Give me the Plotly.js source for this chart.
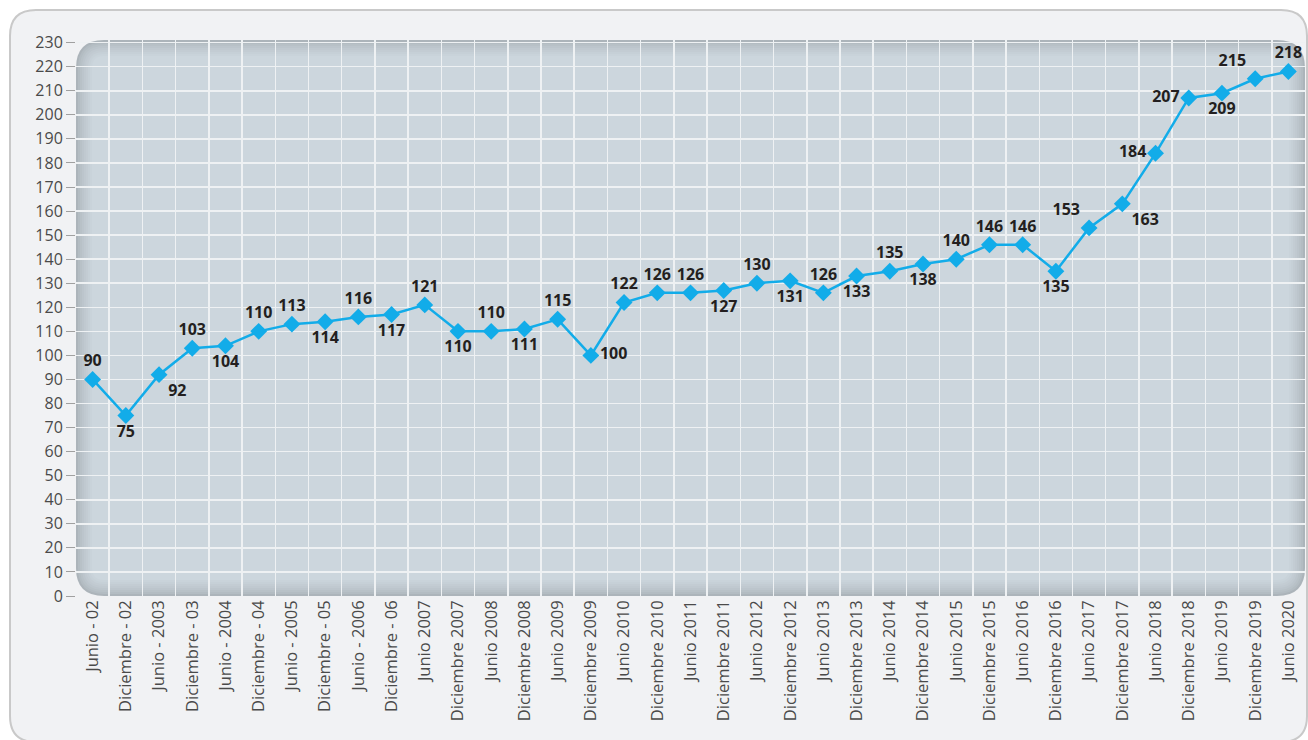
<!DOCTYPE html>
<html>
<head>
<meta charset="utf-8">
<script src="https://cdn.plot.ly/plotly-3.0.1.min.js"></script>
<style>
html,body{margin:0;padding:0;background:#ffffff;}
#chart{width:1308px;height:740px;}
</style>
</head>
<body>
<div id="chart"></div>
<script>
const categories = [
  "Junio - 02","Diciembre - 02","Junio - 2003","Diciembre - 03","Junio - 2004","Diciembre - 04",
  "Junio - 2005","Diciembre - 05","Junio - 2006","Diciembre - 06","Junio 2007","Diciembre 2007",
  "Junio 2008","Diciembre 2008","Junio 2009","Diciembre 2009","Junio 2010","Diciembre 2010",
  "Junio 2011","Diciembre 2011","Junio 2012","Diciembre 2012","Junio 2013","Diciembre 2013",
  "Junio 2014","Diciembre 2014","Junio 2015","Diciembre 2015","Junio 2016","Diciembre 2016",
  "Junio 2017","Diciembre 2017","Junio 2018","Diciembre 2018","Junio 2019","Diciembre 2019","Junio 2020"
];
const values = [
  90,75,92,103,104,110,113,114,116,117,121,110,110,111,115,100,122,126,126,127,
  130,131,126,133,135,138,140,146,146,135,153,163,184,207,209,215,218
];
const labelPositions = [
  "top center","bottom center","bottom right","top center","bottom center","top center",
  "top center","bottom center","top center","bottom center","top center","bottom center",
  "top center","bottom center","top center","middle right","top center","top center",
  "top center","bottom center","top center","bottom center","top center","bottom center",
  "top center","bottom center","top center","top center","top center","bottom center",
  "top left","bottom right","middle left","middle left","bottom center","top left","top center"
];
const yTicks = [0,10,20,30,40,50,60,70,80,90,100,110,120,130,140,150,160,170,180,190,200,210,220,230];

const W = 1308, H = 740;
const m = {l:76, r:3, t:40, b:144, pad:0};
const pw = W - m.l - m.r, ph = H - m.t - m.b;
const px = x => (x - m.l) / pw;
const py = y => 1 - (y - m.t) / ph;

function roundRect(x0, y0, x1, y1, r) {
  const P = (x, y) => px(x).toFixed(5) + "," + py(y).toFixed(5);
  return "M" + P(x0 + r, y0) + " L" + P(x1 - r, y0) + " Q" + P(x1, y0) + " " + P(x1, y0 + r) +
    " L" + P(x1, y1 - r) + " Q" + P(x1, y1) + " " + P(x1 - r, y1) +
    " L" + P(x0 + r, y1) + " Q" + P(x0, y1) + " " + P(x0, y1 - r) +
    " L" + P(x0, y0 + r) + " Q" + P(x0, y0) + " " + P(x0 + r, y0) + " Z";
}

function mix(a, b, t) {
  const pa = [1,3,5].map(i => parseInt(a.substr(i,2),16));
  const pb = [1,3,5].map(i => parseInt(b.substr(i,2),16));
  return "rgb(" + pa.map((v,i) => Math.round(v + (pb[i]-v)*t)).join(",") + ")";
}

const shapes = [];
// outer panel
shapes.push({type:"path", xref:"paper", yref:"paper", layer:"below",
  path: roundRect(10, 10, 1307, 742, 26),
  fillcolor:"#f1f2f4", line:{color:"#c9c9c9", width:2}});
// plot background with shaded edges
const N = 9;
for (let i = 0; i < N; i++) {
  const inset = i * 2;
  const t = i / (N - 1);
  shapes.push({type:"path", xref:"paper", yref:"paper", layer:"below",
    path: roundRect(76 + inset, 40 + inset, 1305 - inset, 596 - inset, Math.max(28 - inset, 4)),
    fillcolor: mix("#acb4ba", "#ccd6dd", Math.pow(t, 0.7)), line:{width:0}});
}

const trace = {
  type:"scatter", mode:"lines+markers+text",
  x: categories, y: values,
  text: values.map(String),
  textposition: labelPositions,
  textfont:{family:"Open Sans, Noto Sans, sans-serif", size:16, color:"#231f20", weight:"bold"},
  line:{color:"#12ace9", width:2.5},
  marker:{symbol:"diamond", size:13, color:"#12ace9"},
  cliponaxis:false, hoverinfo:"skip"
};

const layout = {
  width: W, height: H,
  margin: m,
  paper_bgcolor:"#ffffff",
  plot_bgcolor:"rgba(0,0,0,0)",
  showlegend:false,
  font:{family:"Open Sans, Noto Sans, sans-serif", color:"#4a4a4a"},
  xaxis:{
    type:"category", range:[-0.5, categories.length - 0.5],
    tickangle:-90, tickson:"boundaries",
    showgrid:true, gridcolor:"#eef1f3", gridwidth:1.5,
    ticks:"", ticklen:0, showline:false, zeroline:false,
    tickfont:{size:16.5, color:"#4a4a4a"}, automargin:false
  },
  yaxis:{
    range:[0, 231.1], tickmode:"array", tickvals:yTicks, ticktext:yTicks.map(String),
    showgrid:true, gridcolor:"#eef1f3", gridwidth:1.5,
    ticks:"outside", ticklen:9, tickcolor:"#a0a0a0", tickwidth:1,
    showline:false, zeroline:false,
    tickfont:{size:16, color:"#4a4a4a"}, automargin:false
  },
  shapes: shapes
};

Plotly.newPlot("chart", [trace], layout, {displayModeBar:false, staticPlot:true});
</script>
</body>
</html>
